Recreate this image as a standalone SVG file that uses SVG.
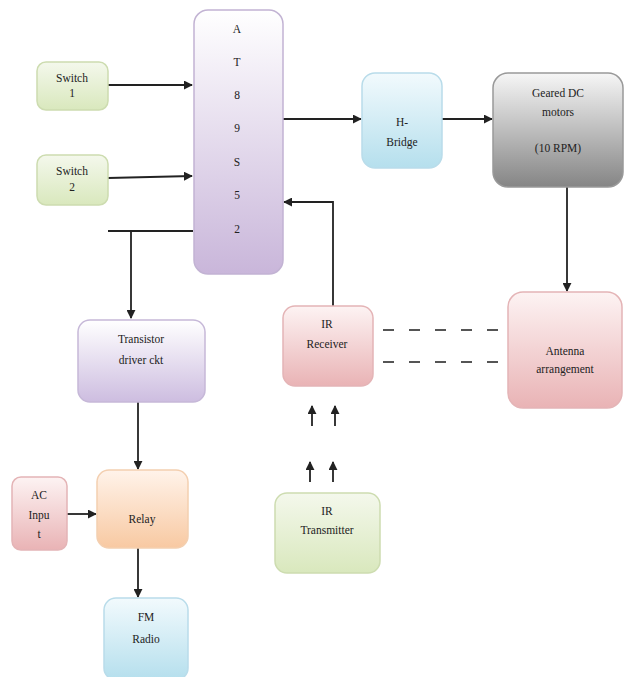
<svg xmlns="http://www.w3.org/2000/svg" width="624" height="677" viewBox="0 0 624 677">
<style>
text{font-family:"Liberation Serif","Times New Roman",serif;font-size:11.5px;fill:#222;text-anchor:middle}
.box{stroke-width:1.5}
.c{stroke:#222;stroke-width:1.8;fill:none}
.d{stroke:#555;stroke-width:2;fill:none;stroke-dasharray:11,15}
</style>
<defs>
<marker id="ah" viewBox="0 0 10 10" refX="9" refY="5" markerWidth="9" markerHeight="9" markerUnits="userSpaceOnUse" orient="auto"><path d="M0,0L10,5L0,10z" fill="#222"/></marker>
<linearGradient id="gGreen" x1="0" y1="0" x2="0" y2="1"><stop offset="0" stop-color="#f4f8ec"/><stop offset="1" stop-color="#d9e8bd"/></linearGradient>
<linearGradient id="gPurple" x1="0" y1="0" x2="0" y2="1"><stop offset="0" stop-color="#ffffff"/><stop offset="1" stop-color="#c9b6da"/></linearGradient>
<linearGradient id="gBlue" x1="0" y1="0" x2="0" y2="1"><stop offset="0" stop-color="#f2fafd"/><stop offset="1" stop-color="#b5dfed"/></linearGradient>
<linearGradient id="gGray" x1="0" y1="0" x2="0" y2="1"><stop offset="0" stop-color="#f6f6f6"/><stop offset="1" stop-color="#858585"/></linearGradient>
<linearGradient id="gPink" x1="0" y1="0" x2="0" y2="1"><stop offset="0" stop-color="#fdf3f3"/><stop offset="1" stop-color="#e9b3b5"/></linearGradient>
<linearGradient id="gOrange" x1="0" y1="0" x2="0" y2="1"><stop offset="0" stop-color="#fff3ea"/><stop offset="1" stop-color="#f8c9a2"/></linearGradient>
<linearGradient id="gLav" x1="0" y1="0" x2="0" y2="1"><stop offset="0" stop-color="#ffffff"/><stop offset="1" stop-color="#cdbde0"/></linearGradient>
</defs>

<g id="connectors">
<path class="c" d="M108,85H192" marker-end="url(#ah)"/>
<path class="c" d="M108,178L192,176" marker-end="url(#ah)"/>
<path class="c" d="M108,231H193"/>
<path class="c" d="M131,231V318" marker-end="url(#ah)"/>
<path class="c" d="M283,119H361" marker-end="url(#ah)"/>
<path class="c" d="M442,119H492" marker-end="url(#ah)"/>
<path class="c" d="M567,187V291" marker-end="url(#ah)"/>
<path class="c" d="M333,306V202H284" marker-end="url(#ah)"/>
<path class="c" d="M138,402V469" marker-end="url(#ah)"/>
<path class="c" d="M67,514H96" marker-end="url(#ah)"/>
<path class="c" d="M138,548V597" marker-end="url(#ah)"/>
<path class="d" d="M383,330H500"/>
<path class="d" d="M383,362H500"/>
<path class="c" d="M312,426V406" marker-end="url(#ah)"/>
<path class="c" d="M335,426V406" marker-end="url(#ah)"/>
<path class="c" d="M310,482V462" marker-end="url(#ah)"/>
<path class="c" d="M333,482V462" marker-end="url(#ah)"/>
</g>

<g id="switch1"><rect class="box" x="37" y="62" width="71" height="48" rx="9" fill="url(#gGreen)" stroke="#cddcb0"/><text x="72" y="82">Switch</text><text x="72" y="97">1</text></g>
<g id="switch2"><rect class="box" x="37" y="155" width="71" height="50" rx="9" fill="url(#gGreen)" stroke="#cddcb0"/><text x="72" y="175">Switch</text><text x="72" y="191">2</text></g>
<g id="at89s52"><rect class="box" x="194" y="10" width="89" height="264" rx="14" fill="url(#gPurple)" stroke="#c2b3d3"/>
<text x="237" y="33">A</text><text x="237" y="66">T</text><text x="237" y="99">8</text><text x="237" y="132">9</text><text x="237" y="166">S</text><text x="237" y="199">5</text><text x="237" y="233">2</text></g>
<g id="hbridge"><rect class="box" x="362" y="73" width="80" height="95" rx="13" fill="url(#gBlue)" stroke="#b9dcea"/><text x="402" y="126">H-</text><text x="402" y="146">Bridge</text></g>
<g id="geared"><rect class="box" x="493" y="73" width="130" height="114" rx="15" fill="url(#gGray)" stroke="#999"/><text x="558" y="97">Geared DC</text><text x="558" y="116">motors</text><text x="558" y="152">(10 RPM)</text></g>
<g id="transistor"><rect class="box" x="78" y="320" width="127" height="82" rx="12" fill="url(#gLav)" stroke="#c6b8d8"/><text x="141" y="343">Transistor</text><text x="141" y="364">driver ckt</text></g>
<g id="irreceiver"><rect class="box" x="283" y="306" width="90" height="80" rx="12" fill="url(#gPink)" stroke="#e4b4b6"/><text x="327" y="328">IR</text><text x="327" y="348">Receiver</text></g>
<g id="antenna"><rect class="box" x="508" y="292" width="114" height="116" rx="15" fill="url(#gPink)" stroke="#e4b4b6"/><text x="565" y="355">Antenna</text><text x="565" y="373">arrangement</text></g>
<g id="acinput"><rect class="box" x="12" y="477" width="55" height="73" rx="9" fill="url(#gPink)" stroke="#e4b4b6"/><text x="39" y="499">AC</text><text x="39" y="519">Inpu</text><text x="39" y="538">t</text></g>
<g id="relay"><rect class="box" x="97" y="470" width="91" height="78" rx="12" fill="url(#gOrange)" stroke="#f3cfb0"/><text x="142" y="523">Relay</text></g>
<g id="fmradio"><rect class="box" x="104" y="598" width="84" height="82" rx="12" fill="url(#gBlue)" stroke="#b9dcea"/><text x="146" y="621">FM</text><text x="146" y="643">Radio</text></g>
<g id="irtransmitter"><rect class="box" x="275" y="493" width="105" height="80" rx="12" fill="url(#gGreen)" stroke="#cddcb0"/><text x="327" y="515">IR</text><text x="327" y="534">Transmitter</text></g>
</svg>
